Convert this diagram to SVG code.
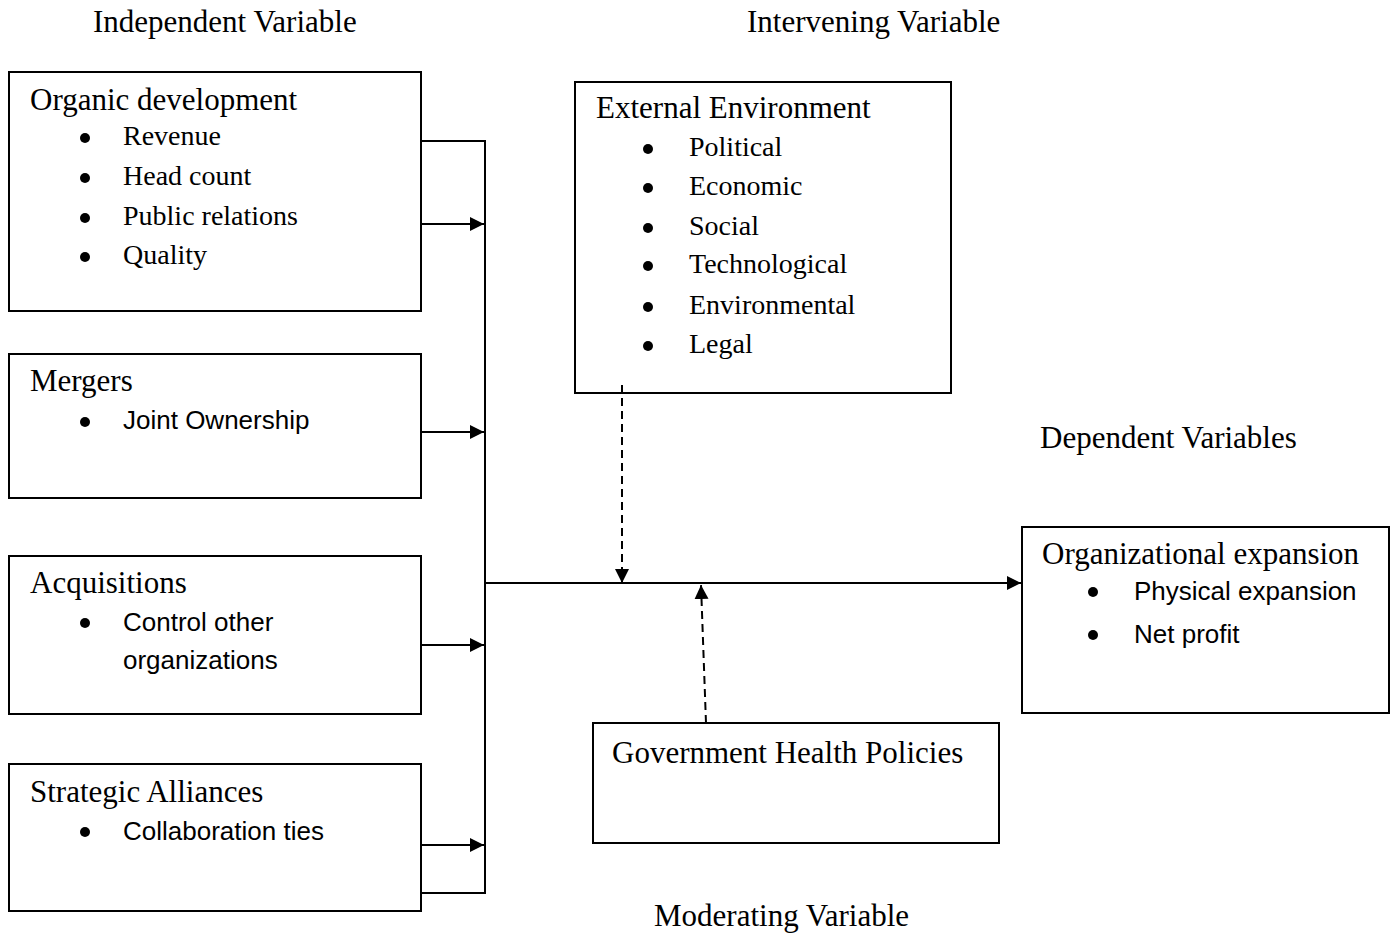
<svg xmlns="http://www.w3.org/2000/svg" width="1397" height="933" viewBox="0 0 1397 933">
<style>
.box{fill:#fff;stroke:#000;stroke-width:2}
.h{font-family:"Liberation Serif","Times New Roman",serif;font-size:31px;fill:#000}
.i{font-family:"Liberation Serif","Times New Roman",serif;font-size:28px;fill:#000}
.s{font-family:"Liberation Sans",Arial,sans-serif;font-size:26px;fill:#000}
.b{fill:#000}
.ln{fill:none;stroke:#000;stroke-width:2}
.dash{fill:none;stroke:#000;stroke-width:2;stroke-dasharray:8 5}
</style>
<defs>
<marker id="arr" markerUnits="userSpaceOnUse" markerWidth="15" markerHeight="15" refX="14" refY="7" orient="auto">
<path d="M0,0 L14,7 L0,14 z" fill="#000"/>
</marker>
</defs>
<rect width="1397" height="933" fill="#fff"/>

<g id="titles">
<text class="h" x="93" y="32">Independent Variable</text>
<text class="h" x="747" y="32">Intervening Variable</text>
<text class="h" x="1040" y="448">Dependent Variables</text>
<text class="h" x="654" y="926">Moderating Variable</text>
</g>

<g id="organic">
<rect class="box" x="9" y="72" width="412" height="239"/>
<text class="h" x="30" y="110">Organic development</text>
<circle class="b" cx="85" cy="138" r="5"/><text class="i" x="123" y="145">Revenue</text>
<circle class="b" cx="85" cy="178" r="5"/><text class="i" x="123" y="185">Head count</text>
<circle class="b" cx="85" cy="218" r="5"/><text class="i" x="123" y="225">Public relations</text>
<circle class="b" cx="85" cy="257" r="5"/><text class="i" x="123" y="264">Quality</text>
</g>

<g id="mergers">
<rect class="box" x="9" y="354" width="412" height="144"/>
<text class="h" x="30" y="391">Mergers</text>
<circle class="b" cx="85" cy="422" r="5"/><text class="s" x="123" y="429">Joint Ownership</text>
</g>

<g id="acquisitions">
<rect class="box" x="9" y="556" width="412" height="158"/>
<text class="h" x="30" y="593">Acquisitions</text>
<circle class="b" cx="85" cy="623" r="5"/><text class="s" x="123" y="631">Control other</text>
<text class="s" x="123" y="669">organizations</text>
</g>

<g id="alliances">
<rect class="box" x="9" y="764" width="412" height="147"/>
<text class="h" x="30" y="802">Strategic Alliances</text>
<circle class="b" cx="85" cy="832" r="5"/><text class="s" x="123" y="840">Collaboration ties</text>
</g>

<g id="external">
<rect class="box" x="575" y="82" width="376" height="311"/>
<text class="h" x="596" y="118">External Environment</text>
<circle class="b" cx="648" cy="149" r="5"/><text class="i" x="689" y="156">Political</text>
<circle class="b" cx="648" cy="188" r="5"/><text class="i" x="689" y="195">Economic</text>
<circle class="b" cx="648" cy="228" r="5"/><text class="i" x="689" y="235">Social</text>
<circle class="b" cx="648" cy="266" r="5"/><text class="i" x="689" y="273">Technological</text>
<circle class="b" cx="648" cy="307" r="5"/><text class="i" x="689" y="314">Environmental</text>
<circle class="b" cx="648" cy="346" r="5"/><text class="i" x="689" y="353">Legal</text>
</g>

<g id="expansion">
<rect class="box" x="1022" y="527" width="367" height="186"/>
<text class="h" x="1042" y="564">Organizational expansion</text>
<circle class="b" cx="1093" cy="592" r="5"/><text class="s" x="1134" y="600">Physical expansion</text>
<circle class="b" cx="1093" cy="635" r="5"/><text class="s" x="1134" y="643">Net profit</text>
</g>

<g id="government">
<rect class="box" x="593" y="723" width="406" height="120"/>
<text class="h" x="612" y="763">Government Health Policies</text>
</g>

<g id="connectors">
<path class="ln" d="M421,141 H485 V893 H421"/>
<path class="ln" d="M421,224 H484" marker-end="url(#arr)"/>
<path class="ln" d="M421,432 H484" marker-end="url(#arr)"/>
<path class="ln" d="M421,645 H484" marker-end="url(#arr)"/>
<path class="ln" d="M421,845 H484" marker-end="url(#arr)"/>
<path class="ln" d="M485,583 H1021" marker-end="url(#arr)"/>
<path class="dash" d="M622,385 V583" marker-end="url(#arr)"/>
<path class="dash" d="M706,723 L701,585" marker-end="url(#arr)"/>
</g>
</svg>
